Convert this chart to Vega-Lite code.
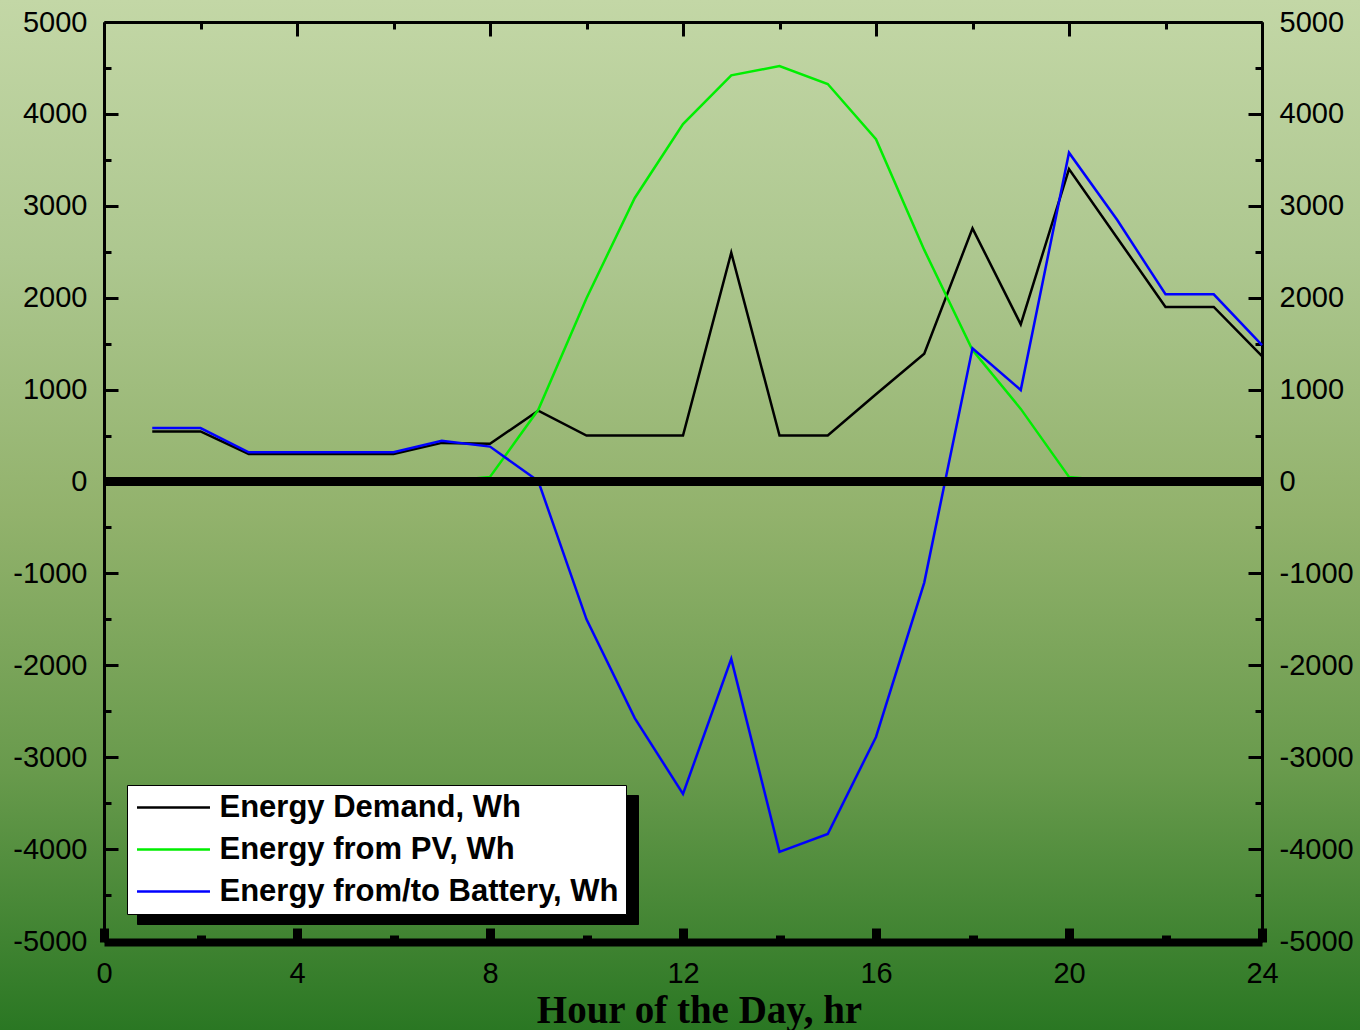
{
  "$schema": "https://vega.github.io/schema/vega-lite/v6.json",
  "width": 1158,
  "height": 919,
  "autosize": {"type": "none"},
  "padding": {"left": 104, "top": 22, "right": 98, "bottom": 89},
  "background": "#8fb06b",
  "config": {
    "view": {
      "fill": {"gradient": "linear", "x1": 0, "y1": -0.02394, "x2": 0, "y2": 1.09684,
        "stops": [
          {"offset": 0, "color": "#c3d7a6"},
          {"offset": 0.25, "color": "#adc78f"},
          {"offset": 0.5, "color": "#92b26c"},
          {"offset": 0.75, "color": "#689a4c"},
          {"offset": 1, "color": "#2a7723"}
        ]},
      "stroke": {"gradient": "linear", "x1": 0, "y1": -0.02394, "x2": 0, "y2": 1.09684,
        "stops": [
          {"offset": 0, "color": "#c3d7a6"},
          {"offset": 0.25, "color": "#adc78f"},
          {"offset": 0.5, "color": "#92b26c"},
          {"offset": 0.75, "color": "#689a4c"},
          {"offset": 1, "color": "#2a7723"}
        ]},
      "strokeWidth": 224
    },
    "axis": {
      "grid": false,
      "domainColor": "black",
      "tickColor": "black",
      "labelColor": "black",
      "labelFont": "Liberation Sans",
      "labelFontSize": 29,
      "labelOverlap": false,
      "labelFlush": false,
      "labelBound": false
    },
    "legend": {
      "labelFont": "Liberation Sans",
      "labelFontSize": 31,
      "labelFontWeight": "bold",
      "labelColor": "black",
      "labelLimit": 0,
      "padding": 7,
      "rowPadding": 10,
      "symbolSize": 213,
      "symbolStrokeWidth": 2.5,
      "symbolOffset": 24,
      "labelOffset": 30.5
    }
  },
  "data": {"values": [
    {"hour": 1, "series": "Energy Demand, Wh", "value": 545},
    {"hour": 2, "series": "Energy Demand, Wh", "value": 545},
    {"hour": 3, "series": "Energy Demand, Wh", "value": 300},
    {"hour": 4, "series": "Energy Demand, Wh", "value": 300},
    {"hour": 5, "series": "Energy Demand, Wh", "value": 300},
    {"hour": 6, "series": "Energy Demand, Wh", "value": 300},
    {"hour": 7, "series": "Energy Demand, Wh", "value": 420},
    {"hour": 8, "series": "Energy Demand, Wh", "value": 410},
    {"hour": 9, "series": "Energy Demand, Wh", "value": 770},
    {"hour": 10, "series": "Energy Demand, Wh", "value": 500},
    {"hour": 11, "series": "Energy Demand, Wh", "value": 500},
    {"hour": 12, "series": "Energy Demand, Wh", "value": 500},
    {"hour": 13, "series": "Energy Demand, Wh", "value": 2490},
    {"hour": 14, "series": "Energy Demand, Wh", "value": 500},
    {"hour": 15, "series": "Energy Demand, Wh", "value": 500},
    {"hour": 16, "series": "Energy Demand, Wh", "value": 950},
    {"hour": 17, "series": "Energy Demand, Wh", "value": 1390},
    {"hour": 18, "series": "Energy Demand, Wh", "value": 2755},
    {"hour": 19, "series": "Energy Demand, Wh", "value": 1710},
    {"hour": 20, "series": "Energy Demand, Wh", "value": 3400},
    {"hour": 21, "series": "Energy Demand, Wh", "value": 2650},
    {"hour": 22, "series": "Energy Demand, Wh", "value": 1900},
    {"hour": 23, "series": "Energy Demand, Wh", "value": 1900},
    {"hour": 24, "series": "Energy Demand, Wh", "value": 1365},
    {"hour": 1, "series": "Energy from PV, Wh", "value": 0},
    {"hour": 2, "series": "Energy from PV, Wh", "value": 0},
    {"hour": 3, "series": "Energy from PV, Wh", "value": 0},
    {"hour": 4, "series": "Energy from PV, Wh", "value": 0},
    {"hour": 5, "series": "Energy from PV, Wh", "value": 0},
    {"hour": 6, "series": "Energy from PV, Wh", "value": 0},
    {"hour": 7, "series": "Energy from PV, Wh", "value": 0},
    {"hour": 8, "series": "Energy from PV, Wh", "value": 50},
    {"hour": 9, "series": "Energy from PV, Wh", "value": 780},
    {"hour": 10, "series": "Energy from PV, Wh", "value": 1995},
    {"hour": 11, "series": "Energy from PV, Wh", "value": 3085},
    {"hour": 12, "series": "Energy from PV, Wh", "value": 3890},
    {"hour": 13, "series": "Energy from PV, Wh", "value": 4420},
    {"hour": 14, "series": "Energy from PV, Wh", "value": 4520},
    {"hour": 15, "series": "Energy from PV, Wh", "value": 4325},
    {"hour": 16, "series": "Energy from PV, Wh", "value": 3725},
    {"hour": 17, "series": "Energy from PV, Wh", "value": 2520},
    {"hour": 18, "series": "Energy from PV, Wh", "value": 1430},
    {"hour": 19, "series": "Energy from PV, Wh", "value": 790},
    {"hour": 20, "series": "Energy from PV, Wh", "value": 50},
    {"hour": 21, "series": "Energy from PV, Wh", "value": 0},
    {"hour": 22, "series": "Energy from PV, Wh", "value": 0},
    {"hour": 23, "series": "Energy from PV, Wh", "value": 0},
    {"hour": 24, "series": "Energy from PV, Wh", "value": 0},
    {"hour": 1, "series": "Energy from/to Battery, Wh", "value": 582},
    {"hour": 2, "series": "Energy from/to Battery, Wh", "value": 582},
    {"hour": 3, "series": "Energy from/to Battery, Wh", "value": 318},
    {"hour": 4, "series": "Energy from/to Battery, Wh", "value": 318},
    {"hour": 5, "series": "Energy from/to Battery, Wh", "value": 318},
    {"hour": 6, "series": "Energy from/to Battery, Wh", "value": 318},
    {"hour": 7, "series": "Energy from/to Battery, Wh", "value": 444},
    {"hour": 8, "series": "Energy from/to Battery, Wh", "value": 380},
    {"hour": 9, "series": "Energy from/to Battery, Wh", "value": 5},
    {"hour": 10, "series": "Energy from/to Battery, Wh", "value": -1500},
    {"hour": 11, "series": "Energy from/to Battery, Wh", "value": -2575},
    {"hour": 12, "series": "Energy from/to Battery, Wh", "value": -3400},
    {"hour": 13, "series": "Energy from/to Battery, Wh", "value": -1930},
    {"hour": 14, "series": "Energy from/to Battery, Wh", "value": -4030},
    {"hour": 15, "series": "Energy from/to Battery, Wh", "value": -3835},
    {"hour": 16, "series": "Energy from/to Battery, Wh", "value": -2780},
    {"hour": 17, "series": "Energy from/to Battery, Wh", "value": -1100},
    {"hour": 18, "series": "Energy from/to Battery, Wh", "value": 1450},
    {"hour": 19, "series": "Energy from/to Battery, Wh", "value": 995},
    {"hour": 20, "series": "Energy from/to Battery, Wh", "value": 3578},
    {"hour": 21, "series": "Energy from/to Battery, Wh", "value": 2845},
    {"hour": 22, "series": "Energy from/to Battery, Wh", "value": 2037},
    {"hour": 23, "series": "Energy from/to Battery, Wh", "value": 2037},
    {"hour": 24, "series": "Energy from/to Battery, Wh", "value": 1485}
  ]},
  "layer": [
    {
      "mark": {"type": "line", "opacity": 0, "strokeWidth": 2.5},
      "encoding": {
        "x": {"field": "hour", "type": "quantitative",
          "scale": {"domain": [0, 24], "nice": false, "zero": false},
          "axis": {"orient": "top", "values": [0,2,4,6,8,10,12,14,16,18,20,22,24], "labels": false, "title": null,
            "domainWidth": 3, "tickWidth": 3,
            "tickSize": {"condition": {"test": "datum.value % 4 === 0", "value": -14}, "value": -7}}},
        "y": {"field": "value", "type": "quantitative",
          "scale": {"domain": [-5000, 5000], "nice": false, "zero": false},
          "axis": {"orient": "right", "values": [-5000,-4500,-4000,-3500,-3000,-2500,-2000,-1500,-1000,-500,0,500,1000,1500,2000,2500,3000,3500,4000,4500,5000],
            "labelExpr": "datum.value % 1000 === 0 ? '' + datum.value : ''", "title": null,
            "domainWidth": 3, "tickWidth": 3, "labelPadding": 31,
            "tickSize": {"condition": {"test": "datum.value % 1000 === 0", "value": -14}, "value": -7}}},
        "color": {"field": "series", "type": "nominal",
          "scale": {"domain": ["Energy Demand, Wh", "Energy from PV, Wh", "Energy from/to Battery, Wh"], "range": ["#000000", "#000000", "#000000"]},
          "legend": {"orient": "none", "legendX": 33, "legendY": 773, "title": null, "fillColor": "#000000", "strokeColor": "#000000", "symbolType": "M-5,0H5", "zindex": 2,
            "labelExpr": "''", "labelOffset": 431.5}}
      }
    },
    {
      "mark": {"type": "line", "strokeWidth": 2.5},
      "encoding": {
        "x": {"field": "hour", "type": "quantitative",
          "axis": {"orient": "bottom", "values": [0,2,4,6,8,10,12,14,16,18,20,22,24],
            "labelExpr": "datum.value % 4 === 0 ? '' + datum.value : ''",
            "domainWidth": 8, "tickWidth": 9, "labelPadding": 31, "offset": 1,
            "tickSize": {"condition": {"test": "datum.value % 4 === 0", "value": -14}, "value": -7},
            "title": "Hour of the Day, hr", "titleFont": "Liberation Serif", "titleFontSize": 39, "titleFontWeight": "bold", "titleColor": "black",
            "titleX": 595, "titleY": 80, "titleBaseline": "alphabetic", "titleAlign": "center"}},
        "y": {"field": "value", "type": "quantitative",
          "axis": {"orient": "left", "values": [-5000,-4500,-4000,-3500,-3000,-2500,-2000,-1500,-1000,-500,0,500,1000,1500,2000,2500,3000,3500,4000,4500,5000],
            "labelExpr": "datum.value % 1000 === 0 ? '' + datum.value : ''", "title": null,
            "domainWidth": 3, "tickWidth": 3, "labelPadding": 31,
            "tickSize": {"condition": {"test": "datum.value % 1000 === 0", "value": -14}, "value": -7}}},
        "color": {"field": "series", "type": "nominal",
          "scale": {"domain": ["Energy Demand, Wh", "Energy from PV, Wh", "Energy from/to Battery, Wh"], "range": ["#000000", "#00ee00", "#0000ff"]},
          "legend": {"orient": "none", "legendX": 23, "legendY": 763, "title": null, "fillColor": "#ffffff", "strokeColor": "#000000", "symbolType": "M-5,0H5", "zindex": 3}}
      }
    },
    {
      "mark": {"type": "rule", "color": "black", "strokeWidth": 9},
      "encoding": {"y": {"datum": 0, "type": "quantitative", "axis": null}}
    }
  ],
  "resolve": {"scale": {"color": "independent"}, "axis": {"x": "independent", "y": "independent"}}
}
